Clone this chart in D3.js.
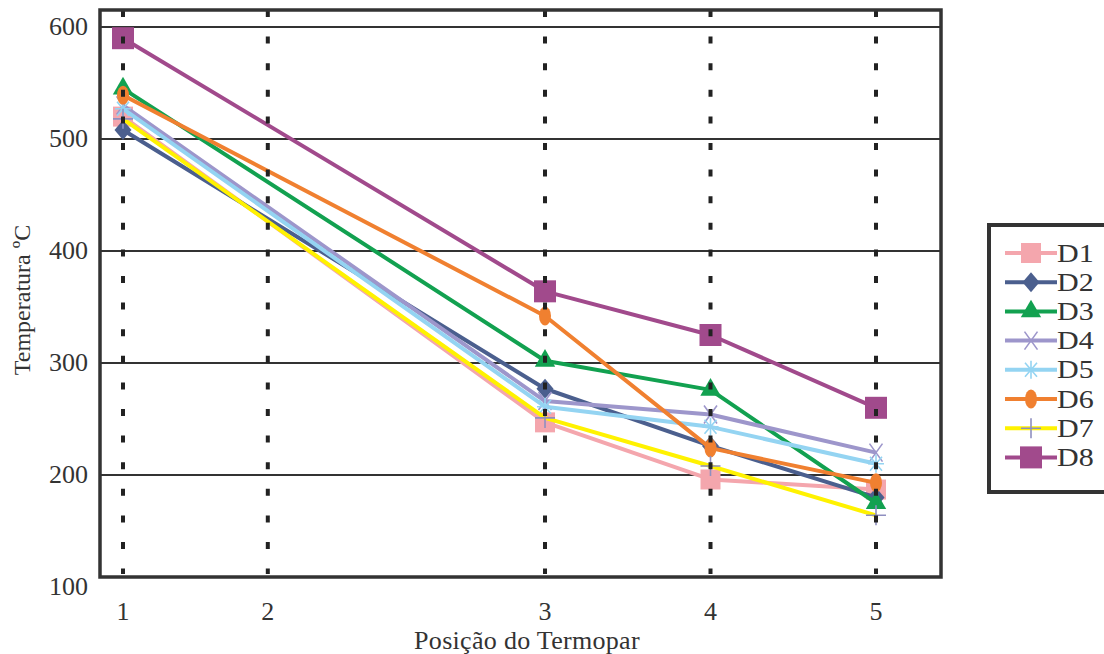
<!DOCTYPE html>
<html>
<head>
<meta charset="utf-8">
<script src="https://cdn.jsdelivr.net/npm/d3@7"></script>
<style>
  body { margin: 0; background: #fff; }
  svg { display: block; }
  text { font-family: "Liberation Serif", "Times New Roman", serif; fill: #333; }
</style>
</head>
<body>
<div id="chart"></div>
<script>
// thermocouple positions (labels) and their distance along the piece
const positions = ["1", "2", "3", "4", "5"];
const distances = [0, 35, 102, 142, 182];
const yTicks = [100, 200, 300, 400, 500, 600];

// temperatures per series, null = no reading at that thermocouple
const D1 = [520, null, 247, 196, 187];
const D2 = [508, null, 277, 226, 180];
const D3 = [545, null, 302, 276, 175];
const D4 = [530, null, 266, 254, 220];
const D5 = [527, null, 261, 243, 210];
const D6 = [539, null, 342, 224, 193];
const D7 = [518, null, 251, 208, 164];
const D8 = [590, null, 364, 325, 260];

const seriesNames = ["D1", "D2", "D3", "D4", "D5", "D6", "D7", "D8"];
const seriesValues = [D1, D2, D3, D4, D5, D6, D7, D8];
const seriesColors = ["#f4a6ad", "#4b5f8e", "#12a150", "#9d96cb", "#94d4f2", "#f08030", "#fff200", "#a14a8c"];
const seriesMarkers = ["square", "diamond", "triangle", "x", "asterisk", "ellipse", "plus", "bigsquare"];

const W = 1104, H = 654;
const frame = { left: 100, top: 10, right: 941, bottom: 577 };

const svg = d3.select("#chart").append("svg")
  .attr("width", W)
  .attr("height", H);

const x = d3.scaleLinear().domain([0, 182]).range([123, 876]);
const y = d3.scaleLinear().domain([100, 600]).range([587, 27]);

// horizontal gridlines
svg.append("g")
  .selectAll("line")
  .data(yTicks.filter(t => t > 100))
  .enter()
  .append("line")
  .attr("x1", frame.left)
  .attr("x2", frame.right)
  .attr("y1", d => y(d))
  .attr("y2", d => y(d))
  .style("stroke", "#333")
  .style("stroke-width", 2.2);

// y tick labels
svg.append("g")
  .selectAll("text")
  .data(yTicks)
  .enter()
  .append("text")
  .attr("x", 88)
  .attr("y", d => y(d) + 8)
  .attr("text-anchor", "end")
  .style("font-size", "26px")
  .text(d => d);

// x tick labels
svg.append("g")
  .selectAll("text")
  .data(positions)
  .enter()
  .append("text")
  .attr("x", (d, i) => x(distances[i]))
  .attr("y", 620)
  .attr("text-anchor", "middle")
  .style("font-size", "26px")
  .text(d => d);

// axis titles
svg.append("text")
  .attr("x", 527)
  .attr("y", 649)
  .attr("text-anchor", "middle")
  .style("font-size", "26px")
  .style("letter-spacing", "0.3px")
  .text("Posição do Termopar");

svg.append("text")
  .attr("transform", "translate(30,300) rotate(-90)")
  .attr("text-anchor", "middle")
  .style("font-size", "24px")
  .text("Temperatura ºC");

function drawMarker(g, kind, color) {
  if (kind === "square" || kind === "bigsquare") {
    let s = kind === "square" ? 20 : 22;
    g.append("rect")
      .attr("x", -s / 2).attr("y", -s / 2)
      .attr("width", s).attr("height", s)
      .style("fill", color);
  } else if (kind === "diamond") {
    g.append("path")
      .attr("d", "M0,-10L8.5,0L0,10L-8.5,0Z")
      .style("fill", color);
  } else if (kind === "triangle") {
    g.append("path")
      .attr("d", d3.symbol().type(d3.symbolTriangle).size(180)())
      .style("fill", color);
  } else if (kind === "x") {
    g.append("path")
      .attr("d", "M-6.5,-9L6.5,9M6.5,-9L-6.5,9")
      .style("stroke", color).style("stroke-width", 1.6).style("fill", "none");
  } else if (kind === "asterisk") {
    g.append("path")
      .attr("d", "M-8,0L8,0M-6,-7L6,7M6,-7L-6,7M0,-9L0,9")
      .style("stroke", color).style("stroke-width", 1.6).style("fill", "none");
  } else if (kind === "ellipse") {
    g.append("ellipse")
      .attr("rx", 6).attr("ry", 9.5)
      .style("fill", color);
  } else if (kind === "plus") {
    g.append("path")
      .attr("d", "M0,-10L0,10M-10,0L10,0")
      .style("stroke", "#8f8fc0").style("stroke-width", 1.6).style("fill", "none");
  }
}

// series lines and markers
const line = d3.line()
  .x(d => x(d.dist))
  .y(d => y(d.value));

seriesValues.forEach((vals, k) => {
  let pts = vals.map((v, i) => ({ dist: distances[i], value: v })).filter(p => p.value !== null);
  let g = svg.append("g");
  g.append("path")
    .datum(pts)
    .attr("d", line)
    .style("fill", "none")
    .style("stroke", seriesColors[k])
    .style("stroke-width", 4)
    .style("stroke-linejoin", "round");
  pts.forEach(p => {
    let m = g.append("g").attr("transform", `translate(${x(p.dist)},${y(p.value)})`);
    drawMarker(m, seriesMarkers[k], seriesColors[k]);
  });
});

// dotted verticals sit on top of the markers
svg.append("g")
  .selectAll("line")
  .data(distances)
  .enter()
  .append("line")
  .attr("x1", d => x(d))
  .attr("x2", d => x(d))
  .attr("y1", frame.top)
  .attr("y2", frame.bottom - 3)
  .style("stroke", "#222")
  .style("stroke-width", 4)
  .style("stroke-dasharray", "7,19.6");

// frame
svg.append("rect")
  .attr("x", frame.left)
  .attr("y", frame.top)
  .attr("width", frame.right - frame.left)
  .attr("height", frame.bottom - frame.top)
  .style("fill", "none")
  .style("stroke", "#333")
  .style("stroke-width", 3.5);

// legend
const legend = svg.append("g");
legend.append("rect")
  .attr("x", 989)
  .attr("y", 225)
  .attr("width", 140)
  .attr("height", 267)
  .style("fill", "#fff")
  .style("stroke", "#333")
  .style("stroke-width", 4);

seriesNames.forEach((name, k) => {
  let cy = 253 + k * 29.2;
  let row = legend.append("g").attr("transform", `translate(0,${cy})`);
  row.append("line")
    .attr("x1", 1005).attr("x2", 1057)
    .style("stroke", seriesColors[k])
    .style("stroke-width", 4);
  let m = row.append("g").attr("transform", "translate(1031,0)");
  drawMarker(m, seriesMarkers[k], seriesColors[k]);
  // reference type is wide, so stretch a smaller font sideways
  row.append("text")
    .attr("transform", "translate(1057,8.5) scale(1.2,1)")
    .style("font-size", "25px")
    .text(name);
});
</script>
</body>
</html>
